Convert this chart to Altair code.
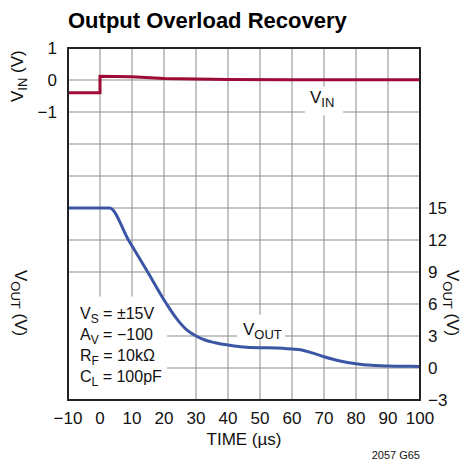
import altair as alt
import pandas as pd

# ---------------- data ----------------
t_vin = [-10, 0, 0, 10, 20, 30, 40, 60, 100]
v_vin = [-0.4, -0.4, 0.12, 0.1, 0.05, 0.03, 0.015, 0.01, 0.01]

t_vout = [-10, 3, 8.9, 14.9, 20.8, 24, 27, 30, 33, 36, 40, 44, 50, 55, 60, 63, 66, 70, 75, 80, 85, 90, 95, 100]
v_vout = [15, 15, 12, 9, 6, 4.6, 3.6, 3.0, 2.6, 2.37, 2.15, 2.0, 1.9, 1.88, 1.78, 1.69, 1.44, 1.06, 0.66, 0.4, 0.25, 0.19, 0.16, 0.15]

x_ticks = list(range(-10, 101, 10))
vin_ticks = [1, 0, -1]
vout_ticks = [-3, 0, 3, 6, 9, 12, 15]
grid_y = list(range(-3, 31, 3))

title_text = "Output Overload Recovery"
x_title = "TIME (µs)"
fig_id = "2057 G65"
conditions = [
    [("V", 0), ("S", 1), (" = ±15V", 0)],
    [("A", 0), ("V", 1), (" = −100", 0)],
    [("R", 0), ("F", 1), (" = 10kΩ", 0)],
    [("C", 0), ("L", 1), (" = 100pF", 0)],
]

# ---------------- layout / style ----------------
FONT = "Liberation Sans"
W = H = 352
X_DOM = [-10, 100]
VOUT_DOM = [-3, 30]
VIN_ZERO, VIN_PER_VOLT = 27, 3      # VIN panel drawn on the shared grid
PXX = W / (X_DOM[1] - X_DOM[0])
PXY = H / (VOUT_DOM[1] - VOUT_DOM[0])
VIN_C = "#9e0b36"
VOUT_C = "#3c56a6"
GRID_C = "#8c8c8c"
TXT_C = "#111111"
MAIN, SUB, DROP = 17, 13, 4

CW = {"V": 667, "S": 667, "A": 667, "R": 722, "F": 611, "C": 722, "L": 556, "I": 278,
      "N": 722, "O": 778, "U": 722, "T": 611, " ": 278, "(": 333, ")": 333, "=": 584,
      "±": 549, "k": 500, "p": 556, "Ω": 768, "−": 584, "µ": 576, "G": 778}
for d in "0123456789":
    CW[d] = 556


def seg_width(s, size):
    return sum(CW.get(c, 556) for c in s) / 1000 * size


def rich(parts, main=MAIN, sub=SUB, drop=DROP):
    out, pos = [], 0.0
    for txt, is_sub in parts:
        s = sub if is_sub else main
        stripped = txt.lstrip(" ")
        lead = len(txt) - len(stripped)
        p = pos + seg_width(" " * lead, s)
        out.append((stripped, p, drop if is_sub else 0, s))
        pos = p + seg_width(stripped, s)
    return out


def px_to_data(px, py):
    return X_DOM[0] + px / PXX, VOUT_DOM[1] - py / PXY


rows = []


def add_text(parts, px0, py0, angle=0, main=MAIN, sub=SUB):
    """px0, py0: start of the baseline, in pixels from the plot's top-left corner"""
    for txt, along, down, s in rich(parts, main, sub):
        if angle == 0:
            px, py = px0 + along, py0 + down
        elif angle == 90:
            px, py = px0 - down, py0 + along
        else:
            px, py = px0 + down, py0 - along
        x, y = px_to_data(px, py)
        rows.append({"x": x, "y": y, "text": txt, "s": s, "a": angle})


# conditions block
for i, line in enumerate(conditions):
    add_text(line, 12, [271, 292, 313, 333.5][i], main=16, sub=12)
# series labels
add_text([("V", 0), ("IN", 1)], 242, 55)
add_text([("V", 0), ("OUT", 1)], 175, 287)
# axis titles
add_text([("V", 0), ("IN", 1), (" (V)", 0)], -45, 54, 270)
add_text([("V", 0), ("OUT", 1), (" (V)", 0)], -53, 222, 90)
add_text([("V", 0), ("OUT", 1), (" (V)", 0)], 379, 222, 90)

text_df = pd.DataFrame(rows)

boxes = pd.DataFrame({
    "x0": [-10, 42.8, 64.0],
    "x1": [21.0, 57.8, 76.0],
    "y0": [-3, 2.7, 23.7],
    "y1": [6.7, 5.0, 26.4],
})

vin_df = pd.DataFrame({"t": t_vin, "v": v_vin, "o": list(range(len(t_vin)))})
vout_df = pd.DataFrame({"t": t_vout, "v": v_vout})

xscale = alt.Scale(domain=X_DOM, nice=False, zero=False)
yscale = alt.Scale(domain=VOUT_DOM, nice=False, zero=False)
X = lambda f: alt.X(f, scale=xscale, axis=None)
Y = lambda f: alt.Y(f, scale=yscale, axis=None)
lab_expr = lambda v: f"{v} < 0 ? '\u2212' + abs({v}) : '' + {v}"

# grid
vgrid = alt.Chart(pd.DataFrame({"t": x_ticks})).mark_rule(color=GRID_C, strokeWidth=1).encode(
    x=X("t:Q"), y=alt.value(0), y2=alt.value(H))
hgrid = alt.Chart(pd.DataFrame({"v": grid_y})).mark_rule(color=GRID_C, strokeWidth=1).encode(
    y=Y("v:Q"), x=alt.value(0), x2=alt.value(W))

# tick labels (placed through the scales)
x_labels = alt.Chart(pd.DataFrame({"t": x_ticks})).transform_calculate(
    lab=lab_expr("datum.t")).mark_text(
    font=FONT, fontSize=MAIN, align="center", baseline="alphabetic", color=TXT_C).encode(
    x=X("t:Q"), y=alt.value(H + 24), text="lab:N")
r_labels = alt.Chart(pd.DataFrame({"v": vout_ticks})).transform_calculate(
    lab=lab_expr("datum.v")).mark_text(
    font=FONT, fontSize=MAIN, align="left", baseline="alphabetic", dy=6, color=TXT_C).encode(
    x=alt.value(W + 8), y=Y("v:Q"), text="lab:N")
l_labels = alt.Chart(pd.DataFrame({"v": vin_ticks})).transform_calculate(
    yv=f"{VIN_ZERO} + {VIN_PER_VOLT} * datum.v",
    lab=lab_expr("datum.v")).mark_text(
    font=FONT, fontSize=MAIN, align="right", baseline="alphabetic", dy=6, color=TXT_C).encode(
    x=alt.value(-11), y=Y("yv:Q"), text="lab:N")

box_layer = alt.Chart(boxes).mark_rect(fill="white", strokeWidth=0).encode(
    x=X("x0:Q"), x2="x1:Q", y=Y("y0:Q"), y2="y1:Q")

vin_line = alt.Chart(vin_df).transform_calculate(
    yv=f"{VIN_ZERO} + {VIN_PER_VOLT} * datum.v"
).mark_line(color=VIN_C, strokeWidth=3).encode(
    x=X("t:Q"), y=Y("yv:Q"), order="o:Q")

vout_line = alt.Chart(vout_df).mark_line(color=VOUT_C, strokeWidth=3, interpolate="monotone").encode(
    x=X("t:Q"), y=Y("v:Q"))

text_layers = []
for (s, a), g in text_df.groupby(["s", "a"]):
    text_layers.append(
        alt.Chart(g.reset_index(drop=True)).mark_text(
            font=FONT, fontSize=float(s), angle=float(a), align="left", baseline="alphabetic",
            color=TXT_C).encode(x=X("x:Q"), y=Y("y:Q"), text="text:N")
    )

frame = alt.Chart(pd.DataFrame({"x0": [X_DOM[0]], "x1": [X_DOM[1]],
                                "y0": [VOUT_DOM[0]], "y1": [VOUT_DOM[1]]})).mark_rect(
    fill="transparent", stroke="#222222", strokeWidth=2).encode(
    x=X("x0:Q"), x2="x1:Q", y=Y("y0:Q"), y2="y1:Q")

title_layer = alt.Chart(pd.DataFrame({"text": [title_text]})).mark_text(
    font=FONT, fontSize=22, fontWeight="bold", align="left", baseline="alphabetic",
    color="#000000").encode(x=alt.value(0), y=alt.value(-20), text="text:N")

xtitle_layer = alt.Chart(pd.DataFrame({"text": [x_title]})).mark_text(
    font=FONT, fontSize=MAIN, align="center", baseline="alphabetic", color=TXT_C).encode(
    x=alt.value(W / 2), y=alt.value(397), text="text:N")

id_layer = alt.Chart(pd.DataFrame({"text": [fig_id]})).mark_text(
    font=FONT, fontSize=11, align="right", baseline="alphabetic", color=TXT_C).encode(
    x=alt.value(W), y=alt.value(411), text="text:N")

chart = alt.layer(
    vgrid, hgrid, box_layer, vin_line, vout_line, *text_layers, frame,
    x_labels, r_labels, l_labels, title_layer, xtitle_layer, id_layer,
).properties(
    width=W, height=H,
    padding={"left": 60, "top": 40, "right": 44, "bottom": 60},
    autosize="none",
).configure_view(stroke="transparent")

chart.save("out.html", embed_options={"renderer": "svg", "actions": False})
